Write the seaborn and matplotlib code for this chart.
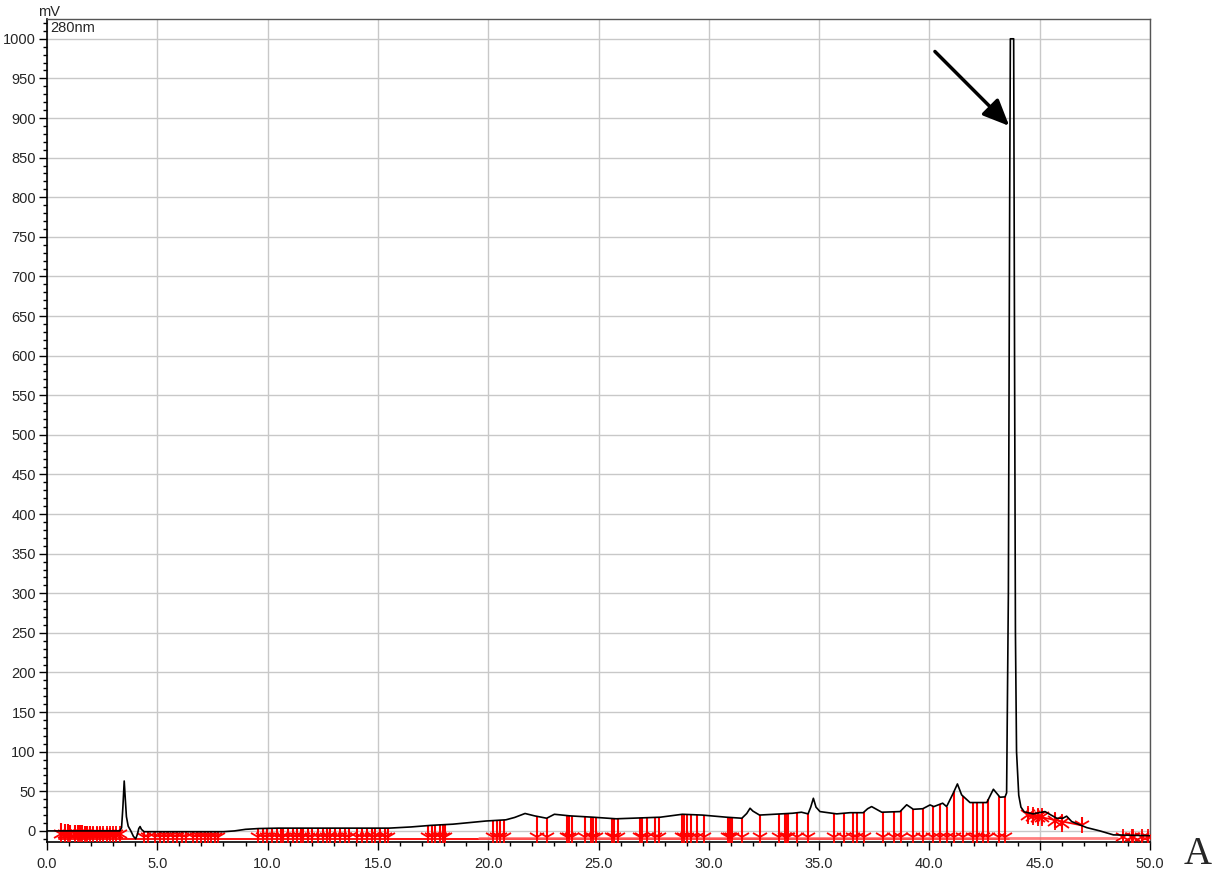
import numpy as np
import matplotlib
matplotlib.use("Agg")
import matplotlib.pyplot as plt
import seaborn as sns

sns.set_style("white")
plt.rcParams['font.family'] = ['Liberation Sans', 'DejaVu Sans']

# ---- chromatogram trace (time in min, signal in mV) ----
time_min = [0.0, 3.3, 3.38, 3.44, 3.5, 3.55, 3.6, 3.68, 3.8, 3.92, 4.02, 4.1, 4.16, 4.22, 4.28, 4.4,
            8.0, 8.5, 9.0, 9.6, 10.5, 15.5, 16.5, 17.4, 18.4, 19.9, 20.8, 21.2, 21.67, 22.1, 22.65,
            23.0, 23.7, 24.75, 25.8, 27.8, 28.8, 29.7, 30.8, 31.5, 31.72, 31.87, 32.0, 32.3, 33.8,
            34.2, 34.5, 34.62, 34.74, 34.86, 35.04, 35.8, 36.4, 37.0, 37.2, 37.38, 37.84, 38.67,
            38.97, 39.27, 39.7, 40.03, 40.2, 40.6, 40.78, 41.08, 41.27, 41.46, 41.84, 42.6, 42.9,
            43.2, 43.43, 43.5, 43.58, 43.64, 43.67, 43.82, 43.86, 43.9, 43.95, 44.05, 44.15, 44.3,
            44.7, 45.24, 45.77, 46.05, 46.22, 46.45, 47.13, 47.73, 48.34, 50.0]
signal_mv = [0, 0, 4, 30, 63, 40, 18, 6, 0, -7, -10, -4, 3, 5.5, 2, -1,
             -1, 0, 2, 3, 3.5, 3.5, 5, 7, 8.5, 12.5, 14, 17, 22, 19, 16,
             21, 19, 17.3, 15.3, 17.3, 21, 20, 17.3, 16, 22, 28.6, 25, 20, 22.3,
             23.6, 21.5, 30, 41.2, 30, 24.4, 21.5, 23, 23, 28, 30.7, 23.6, 24.4,
             33, 27.3, 28, 32.8, 30.7, 35, 30.7, 47.6, 59.3, 45.5, 35.8, 35.8, 52.6,
             42.5, 43, 48, 300, 800, 1000, 1000, 600, 250, 100, 45, 30, 24,
             21.5, 24.4, 16, 16, 18.6, 11.8, 4.2, 0, -5, -6]

# ---- integration marks (peak start/end positions, min) ----
marks_lowstart = [0.65, 0.8, 0.95, 1.05, 1.25, 1.4, 1.5, 1.6, 1.7, 1.8, 1.95, 2.1, 2.25,
                  2.4, 2.55, 2.7, 2.85, 3.0, 3.15, 3.3]
marks_lowstart_top = [10, 9, 9, 8, 8, 7, 7, 7, 6, 6, 6, 5, 5, 5, 4, 4, 4, 3, 3, 3]
marks_main = [4.4, 4.6, 4.9, 5.1, 5.3, 5.5, 5.7, 5.9, 6.1, 6.3, 6.6, 6.8, 7.0, 7.15, 7.3, 7.45,
              7.6, 7.75,
              9.58, 9.8, 9.96, 10.19, 10.41, 10.6, 10.71, 10.94, 11.17, 11.32, 11.5, 11.62,
              11.85, 12.0, 12.3, 12.52, 12.7, 12.83, 13.06, 13.28, 13.51, 13.7, 14.04, 14.27,
              14.5, 14.72, 14.87, 15.1, 15.32, 15.47,
              17.29, 17.44, 17.59, 17.82, 17.94, 18.04,
              20.23, 20.39, 20.54, 20.72, 22.2, 22.65, 23.56, 23.68, 23.8,
              24.39, 24.64, 24.77, 24.89, 25.6, 25.7, 25.9, 26.88, 26.96, 27.21, 27.56, 27.76,
              28.77, 28.88, 29.0, 29.18, 29.48, 29.78, 30.89, 30.96, 31.05, 31.49, 32.32,
              33.2, 33.46, 33.53, 33.6, 33.98, 34.51, 35.68, 36.15, 36.55, 36.7, 37.03,
              37.88, 38.4, 38.7, 39.24, 39.7, 40.15, 40.48, 40.78, 41.12, 41.54, 41.96,
              42.14, 42.44, 42.67, 43.17, 43.43]
marks_tail = [44.48, 44.71, 44.94, 45.09, 45.69, 46.0]
marks_tail_y = [20.2, 18.9, 18.1, 17.3, 13.0, 10.5]
mark_tail_end = [46.9]
mark_tail_end_y = [7.6]
marks_end = [48.79, 49.17, 49.24, 49.62, 49.92]

t = np.array(time_min)
s = np.array(signal_mv)

fig = plt.figure(figsize=(12.18, 8.73), dpi=100)
ax = fig.add_axes([47 / 1218, 31 / 873, 1103 / 1218, 823 / 873])

red = '#ff0000'
base_y = -10.5
vlw = 1.5
msz = 12

# baselines
ax.plot([0.55, 43.6], [base_y, base_y], color=red, lw=1.3, zorder=2)
ax.plot([19.6, 48.5], [-8.6, -8.6], color='#ff6060', lw=2.0, alpha=0.8, zorder=2)
ax.plot([44.4, 46.9], [21, 7], color=red, lw=1.3, zorder=2)

# vertical drop lines for the main integration marks
mm = np.array(marks_main)
tops = np.interp(mm, t, s)
ax.vlines(mm, base_y, tops, color=red, lw=vlw, zorder=2)
ax.plot(mm, np.full_like(mm, -8.3), linestyle='none', marker='1', color=red,
        markersize=msz, markeredgewidth=1.3, zorder=3)

# early region asterisks
ml = np.array(marks_lowstart)
ax.vlines(ml, -11.5, marks_lowstart_top, color=red, lw=vlw, zorder=2)
for mk in ['1', '2']:
    ax.plot(ml, np.full_like(ml, -3.5), linestyle='none', marker=mk, color=red,
            markersize=msz, markeredgewidth=1.3, zorder=3)

# tail region asterisks
mt = np.array(marks_tail)
mty = np.array(marks_tail_y)
ax.vlines(mt, mty - 9, mty + 9, color=red, lw=vlw, zorder=2)
for mk in ['1', '2']:
    ax.plot(mt, mty, linestyle='none', marker=mk, color=red, markersize=13,
            markeredgewidth=1.3, zorder=3)
ax.vlines(mark_tail_end, np.array(mark_tail_end_y) - 1, np.array(mark_tail_end_y) + 10,
          color=red, lw=vlw, zorder=2)
ax.plot(mark_tail_end, mark_tail_end_y, linestyle='none', marker='1', color=red,
        markersize=msz, markeredgewidth=1.3, zorder=3)

# end asterisks
me = np.array(marks_end)
ax.vlines(me, -12, -1, color=red, lw=vlw, zorder=2)
for mk in ['1', '2']:
    ax.plot(me, np.full_like(me, -7.5), linestyle='none', marker=mk, color=red,
            markersize=msz, markeredgewidth=1.3, zorder=3)

# chromatogram trace
sns.lineplot(x=t, y=s, ax=ax, color='black', lw=1.2, zorder=4, estimator=None, sort=False)

# axes
ax.set_xlim(0, 50)
ax.set_ylim(-14, 1025)
ax.set_xticks(np.arange(0, 50.1, 5))
ax.set_xticklabels([f"{v:.1f}" for v in np.arange(0, 50.1, 5)])
ax.set_xticks(np.arange(0, 50.1, 1), minor=True)
ax.set_yticks(np.arange(0, 1001, 50))
ax.set_yticks(np.arange(-10, 1021, 10), minor=True)
ax.grid(True, which='major', color='#c8c8c8', lw=1.0, zorder=0)
ax.set_axisbelow(True)
ax.tick_params(axis='both', which='major', direction='out', length=6, width=1,
               labelsize=10.5, color='black', pad=2, left=True, bottom=True)
ax.tick_params(axis='both', which='minor', direction='out', length=3, width=1,
               color='black', left=True, bottom=True)
ax.tick_params(axis='x', which='major', pad=5)
for side in ['left', 'bottom']:
    ax.spines[side].set_color('black')
    ax.spines[side].set_linewidth(1.2)
for side in ['top', 'right']:
    ax.spines[side].set_color('#555555')
    ax.spines[side].set_linewidth(1.0)

ax.set_xlabel('')
ax.set_ylabel('')

# texts
fig.text(38 / 1218, 1 - 12 / 873, 'mV', fontsize=10.5, ha='left', va='center')
ax.text(0.003, 0.998, '280nm', transform=ax.transAxes, fontsize=10.5, ha='left', va='top')
fig.text(1184 / 1218, 1 - 855 / 873, 'A', fontsize=28, ha='left', va='center',
         family=['Liberation Serif', 'DejaVu Serif'])

# arrow
ax.annotate('', xy=(43.62, 890), xytext=(40.25, 984),
            arrowprops=dict(arrowstyle='-|>,head_length=1.6,head_width=0.7', color='black',
                            lw=2.5, shrinkA=0, shrinkB=0))

fig.savefig('out.png', dpi=100)
